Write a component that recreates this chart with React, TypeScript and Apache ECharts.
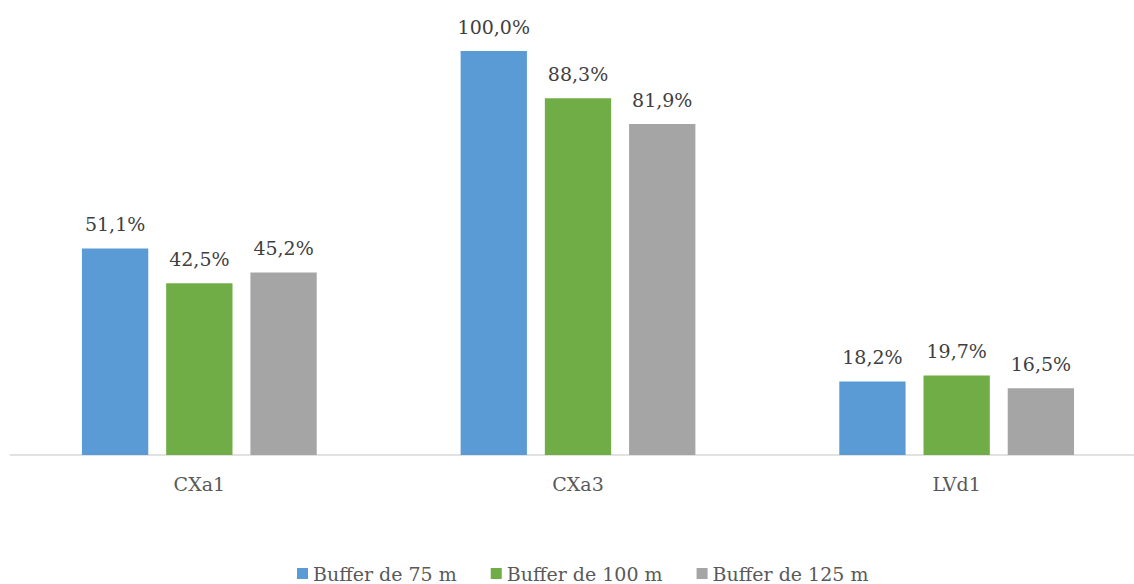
import React, { useEffect, useRef } from "react";
import * as echarts from "echarts";

const categories = ["CXa1", "CXa3", "LVd1"];
const seriesNames = ["Buffer de 75 m", "Buffer de 100 m", "Buffer de 125 m"];
const buffer75 = [51.1, 100.0, 18.2];
const buffer100 = [42.5, 88.3, 19.7];
const buffer125 = [45.2, 81.9, 16.5];
const colors = ["#5b9bd5", "#70ad47", "#a5a5a5"];

export default function App() {
  const ref = useRef<HTMLDivElement>(null);
  useEffect(() => {
    if (!ref.current) return;
    const chart = echarts.init(ref.current, null, { renderer: "svg" });
    const font = "DejaVu Serif";
    const data = [buffer75, buffer100, buffer125];
    chart.setOption({
      animation: false,
      textStyle: { fontFamily: font },
      grid: { left: 10, top: 51, right: 0, height: 404 },
      xAxis: {
        type: "category",
        data: categories,
        axisLine: { lineStyle: { color: "#d9d9d9", width: 1.5 } },
        axisTick: { show: false },
        axisLabel: { color: "#595959", fontSize: 19, fontFamily: font, margin: 19 },
      },
      yAxis: { type: "value", min: 0, max: 100, show: false, splitLine: { show: false } },
      legend: {
        bottom: -4,
        left: 292,
        itemWidth: 11,
        itemHeight: 11,
        itemGap: 34,
        icon: "rect",
        textStyle: { color: "#595959", fontSize: 19, fontFamily: font },
        data: seriesNames,
      },
      series: seriesNames.map((name, i) => ({
        name,
        type: "bar",
        data: data[i],
        barGap: "27%",
        barCategoryGap: "38%",
        itemStyle: { color: colors[i] },
        label: {
          show: true,
          position: "top",
          distance: 15,
          color: "#404040",
          fontSize: 19,
          fontFamily: font,
          formatter: (p: any) => p.value.toFixed(1).replace(".", ",") + "%",
        },
      })),
    });
    return () => chart.dispose();
  }, []);
  return (
    <div style={{ position: "absolute", left: 0, top: 0, width: 1134, height: 584, overflow: "hidden" }}>
      <div ref={ref} style={{ width: 1146, height: 584 }} />
    </div>
  );
}
